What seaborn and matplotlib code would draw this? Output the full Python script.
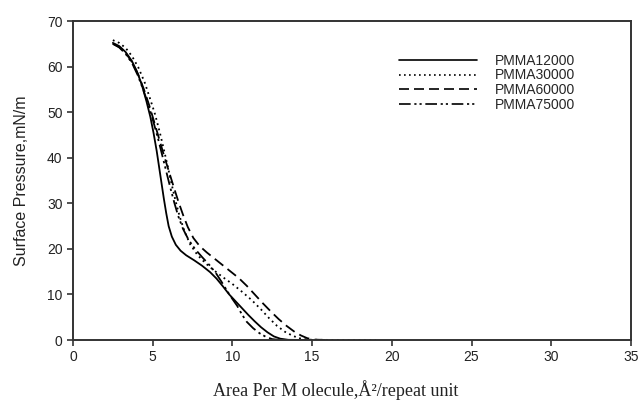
import numpy as np
import pandas as pd
import matplotlib
matplotlib.use("Agg")
import matplotlib.pyplot as plt
import seaborn as sns

# Surface pressure–area isotherms of PMMA films of different molecular weight
series_names = ["PMMA12000", "PMMA30000", "PMMA60000", "PMMA75000"]

area_12000 = [2.5, 2.9, 3.3, 3.7, 4.0, 4.3, 4.6, 4.85, 5.05, 5.25, 5.4, 5.55, 5.7,
              5.85, 6.0, 6.2, 6.45, 6.75, 7.1, 7.6, 8.1, 8.6, 9.0, 9.4, 9.8, 10.2,
              10.6, 11.0, 11.4, 11.8, 12.2, 12.6, 13.0, 13.5, 15.0]
pressure_12000 = [65.2, 64.5, 63.2, 61.2, 59.0, 56.2, 52.5, 49.0, 45.5, 41.5, 38.0,
                  34.5, 31.0, 27.8, 25.0, 22.7, 20.9, 19.6, 18.6, 17.5, 16.3, 14.9,
                  13.5, 11.8, 10.0, 8.5, 7.0, 5.5, 4.1, 2.8, 1.7, 0.8, 0.3, 0.05, 0.0]

area_30000 = [2.5, 2.9, 3.3, 3.7, 4.1, 4.5, 4.85, 5.15, 5.45, 5.7, 5.95, 6.2, 6.45,
              6.7, 7.0, 7.35, 7.8, 8.3, 8.8, 9.4, 10.0, 10.6, 11.2, 11.8, 12.3,
              12.8, 13.3, 13.8, 14.3, 14.8, 16.0, 19.0]
pressure_30000 = [65.8, 65.2, 64.1, 62.3, 59.8, 56.5, 52.8, 49.5, 45.5, 41.8, 38.0,
                  34.0, 30.3, 27.0, 23.8, 21.0, 18.7, 16.9, 15.4, 13.8, 12.3, 10.6,
                  8.8, 6.7, 4.8, 3.1, 1.8, 0.9, 0.3, 0.08, 0.03, 0.0]

area_60000 = [2.5, 2.9, 3.3, 3.7, 4.1, 4.45, 4.8, 5.1, 5.4, 5.7, 6.0, 6.3, 6.6, 6.9,
              7.2, 7.55, 7.95, 8.4, 8.9, 9.4, 9.9, 10.4, 10.9, 11.4, 11.9, 12.4,
              12.9, 13.4, 13.9, 14.3, 14.7, 15.1, 16.0]
pressure_60000 = [65.0, 64.3, 63.0, 61.0, 58.2, 55.0, 51.3, 47.8, 44.2, 40.6, 37.2,
                  33.8, 30.5, 27.5, 24.8, 22.4, 20.6, 19.2, 17.8, 16.4, 15.0, 13.6,
                  11.9, 10.0, 8.1, 6.3, 4.6, 3.1, 1.8, 1.0, 0.4, 0.1, 0.0]

area_75000 = [2.5, 2.9, 3.3, 3.7, 4.05, 4.4, 4.75, 5.05, 5.35, 5.6, 5.85, 6.1, 6.35,
              6.6, 6.9, 7.25, 7.65, 8.1, 8.6, 9.0, 9.35, 9.7, 10.0, 10.3, 10.6,
              10.9, 11.3, 11.7, 12.1, 12.5, 13.0]
pressure_75000 = [65.0, 64.2, 62.8, 60.8, 58.2, 55.0, 51.4, 47.8, 44.0, 40.5, 37.0,
                  33.5, 30.2, 27.2, 24.4, 22.0, 20.0, 18.2, 16.3, 14.5, 12.6, 10.6,
                  9.0, 7.5, 5.6, 4.0, 2.6, 1.5, 0.7, 0.2, 0.0]

x_ticks = [0, 5, 10, 15, 20, 25, 30, 35]
y_ticks = [0, 10, 20, 30, 40, 50, 60, 70]

frames = []
for name, xs, ys in zip(series_names,
                        [area_12000, area_30000, area_60000, area_75000],
                        [pressure_12000, pressure_30000, pressure_60000, pressure_75000]):
    frames.append(pd.DataFrame({"area": xs, "pressure": ys, "sample": name}))
df = pd.concat(frames, ignore_index=True)

sns.set_theme(style="ticks")
plt.rcParams["font.family"] = ["Liberation Sans", "DejaVu Sans"]

fig = plt.figure(figsize=(6.38, 4.01), dpi=100)
ax = fig.add_axes([0.1144, 0.152, 0.8746, 0.7956])

dash_styles = {
    "PMMA12000": "",
    "PMMA30000": (1, 2.0),
    "PMMA60000": (6, 3),
    "PMMA75000": (7, 2.2, 1.3, 1.8, 1.3, 2.2),
}
sns.lineplot(data=df, x="area", y="pressure", style="sample", sort=False,
             units="sample", estimator=None, dashes=dash_styles,
             style_order=series_names, color="black", linewidth=1.3, ax=ax)

ax.set_xlim(0, 35)
ax.set_ylim(0, 70)
ax.set_xticks(x_ticks)
ax.set_yticks(y_ticks)
ax.tick_params(axis="both", direction="out", length=4, width=1.2,
               labelsize=10, colors="#333333", labelcolor="#222222")
for side in ["left", "bottom", "top", "right"]:
    ax.spines[side].set_visible(True)
    ax.spines[side].set_linewidth(1.4)
    ax.spines[side].set_color("#333333")

ax.set_ylabel("Surface Pressure,mN/m", fontsize=11.5, color="#222222", labelpad=13)
ax.set_xlabel("Area Per M olecule,Å²/repeat unit", fontsize=13,
              family=["Liberation Serif", "DejaVu Serif"], color="#222222")
ax.xaxis.set_label_coords(0.47, -0.126)

leg = ax.legend(loc="upper left", bbox_to_anchor=(0.575, 0.915), frameon=False,
                fontsize=10, handlelength=5.6, handletextpad=1.3,
                labelspacing=0.05, borderaxespad=0)
for line in leg.get_lines():
    line.set_linewidth(1.2)
    line.set_color("black")

fig.savefig("out.png", dpi=100)
